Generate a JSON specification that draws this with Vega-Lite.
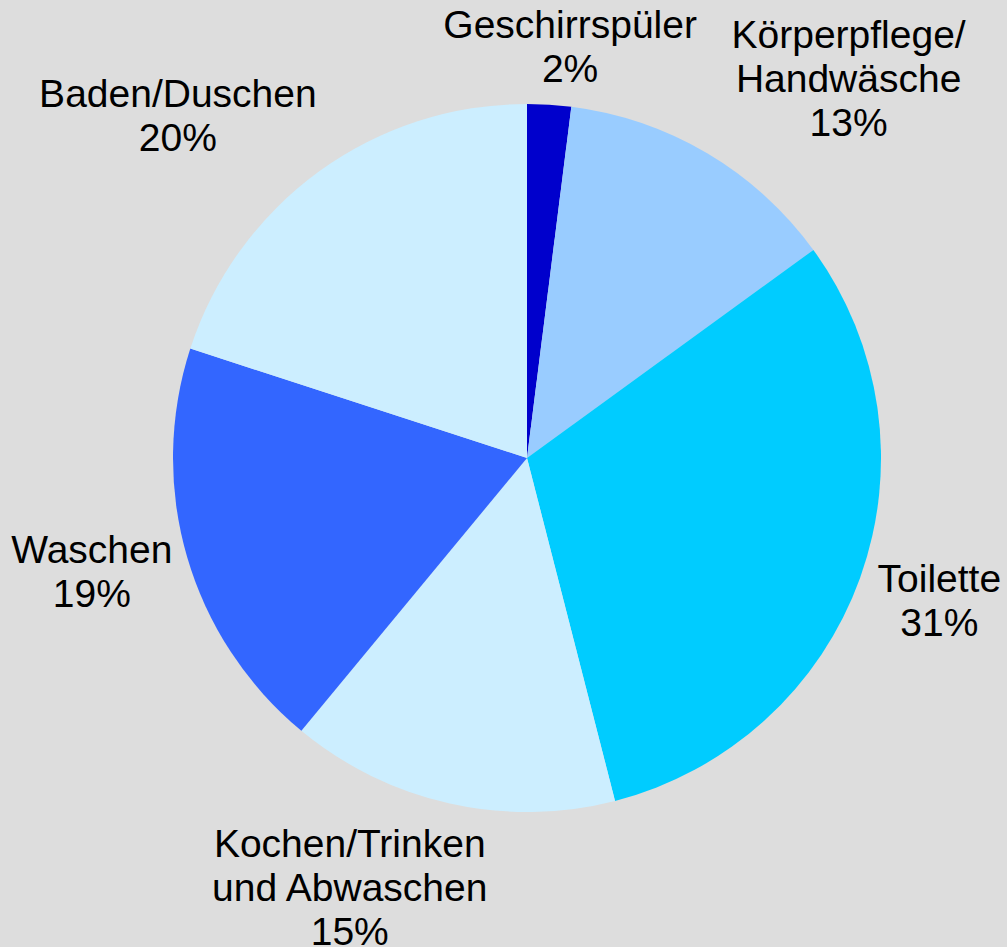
{
  "$schema": "https://vega.github.io/schema/vega-lite/v6.json",
  "width": 708,
  "height": 708,
  "autosize": {"type": "none"},
  "padding": {"left": 173, "top": 104, "right": 126, "bottom": 135},
  "background": "#dddddd",
  "view": {"stroke": null},
  "data": {
    "values": [
      {"idx": 1, "cat": "Geschirrspüler", "value": 2, "label": "Geschirrspüler\n2%"},
      {"idx": 2, "cat": "Körperpflege/Handwäsche", "value": 13, "label": "Körperpflege/\nHandwäsche\n13%"},
      {"idx": 3, "cat": "Toilette", "value": 31, "label": "Toilette\n31%"},
      {"idx": 4, "cat": "Kochen/Trinken und Abwaschen", "value": 15, "label": "Kochen/Trinken\nund Abwaschen\n15%"},
      {"idx": 5, "cat": "Waschen", "value": 19, "label": "Waschen\n19%"},
      {"idx": 6, "cat": "Baden/Duschen", "value": 20, "label": "Baden/Duschen\n20%"}
    ]
  },
  "encoding": {
    "theta": {"field": "value", "type": "quantitative", "stack": true},
    "order": {"field": "idx", "type": "quantitative"},
    "detail": {"field": "cat", "type": "nominal"}
  },
  "layer": [
    {
      "mark": {"type": "arc", "outerRadius": 354, "strokeWidth": 0},
      "encoding": {
        "color": {
          "field": "cat",
          "type": "nominal",
          "legend": null,
          "scale": {
            "domain": ["Geschirrspüler", "Körperpflege/Handwäsche", "Toilette", "Kochen/Trinken und Abwaschen", "Waschen", "Baden/Duschen"],
            "range": ["#0000cc", "#99ccff", "#00ccff", "#cceeff", "#3366ff", "#cceeff"]
          }
        }
      }
    },
    {
      "mark": {"type": "text", "radius": 400, "dx": 18, "dy": -33, "font": "Liberation Sans", "fontSize": 39, "lineHeight": 44, "lineBreak": "\n", "align": "center", "baseline": "middle", "color": "#000000"},
      "encoding": {"text": {"condition": {"test": "datum.cat === 'Geschirrspüler'", "field": "label"}, "value": ""}}
    },
    {
      "mark": {"type": "text", "radius": 400, "dx": 118, "dy": -78, "font": "Liberation Sans", "fontSize": 39, "lineHeight": 44, "lineBreak": "\n", "align": "center", "baseline": "middle", "color": "#000000"},
      "encoding": {"text": {"condition": {"test": "datum.cat === 'Körperpflege/Handwäsche'", "field": "label"}, "value": ""}}
    },
    {
      "mark": {"type": "text", "radius": 400, "dx": 36, "dy": -13, "font": "Liberation Sans", "fontSize": 39, "lineHeight": 44, "lineBreak": "\n", "align": "center", "baseline": "middle", "color": "#000000"},
      "encoding": {"text": {"condition": {"test": "datum.cat === 'Toilette'", "field": "label"}, "value": ""}}
    },
    {
      "mark": {"type": "text", "radius": 400, "dx": -90, "dy": -3, "font": "Liberation Sans", "fontSize": 39, "lineHeight": 44, "lineBreak": "\n", "align": "center", "baseline": "middle", "color": "#000000"},
      "encoding": {"text": {"condition": {"test": "datum.cat === 'Kochen/Trinken und Abwaschen'", "field": "label"}, "value": ""}}
    },
    {
      "mark": {"type": "text", "radius": 400, "dx": -51, "dy": -19, "font": "Liberation Sans", "fontSize": 39, "lineHeight": 44, "lineBreak": "\n", "align": "center", "baseline": "middle", "color": "#000000"},
      "encoding": {"text": {"condition": {"test": "datum.cat === 'Waschen'", "field": "label"}, "value": ""}}
    },
    {
      "mark": {"type": "text", "radius": 400, "dx": -114, "dy": -39, "font": "Liberation Sans", "fontSize": 39, "lineHeight": 44, "lineBreak": "\n", "align": "center", "baseline": "middle", "color": "#000000"},
      "encoding": {"text": {"condition": {"test": "datum.cat === 'Baden/Duschen'", "field": "label"}, "value": ""}}
    }
  ]
}
